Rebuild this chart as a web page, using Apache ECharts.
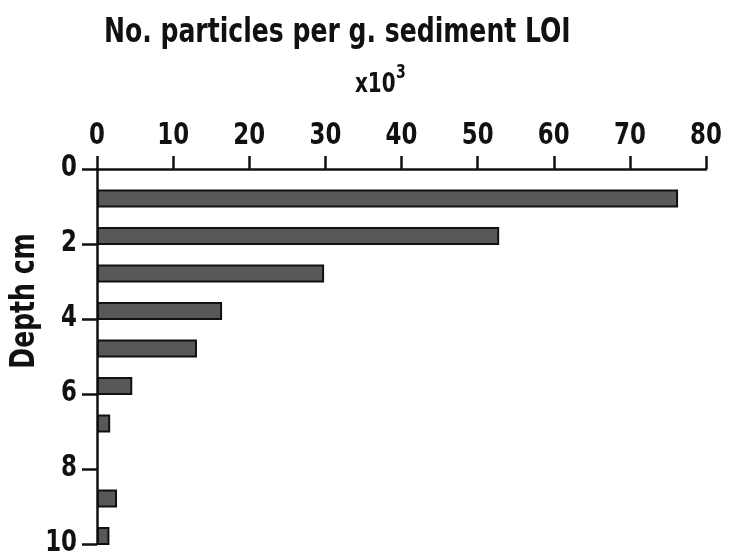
<!DOCTYPE html>
<html>
<head>
<meta charset="utf-8">
<script src="https://cdn.jsdelivr.net/npm/echarts@6/dist/echarts.min.js"></script>
<style>
  html, body { margin: 0; padding: 0; background: #fff; }
  #chart { width: 729px; height: 558px; }
</style>
</head>
<body>
<div id="chart"></div>
<script>
// Sample depth (cm, bottom of each slice) and particle counts (x10^3 per g sediment LOI)
const depths = [1, 2, 3, 4, 5, 6, 7, 8, 9, 10];
const counts = [76.2, 52.7, 29.7, 16.3, 13.0, 4.5, 1.6, 0, 2.5, 1.5];
const xTicks = [0, 10, 20, 30, 40, 50, 60, 70, 80];
const yTicks = [0, 2, 4, 6, 8, 10];
const titleText = 'No. particles per g. sediment LOI';
const unitText = 'x10';
const unitExp = '3';
const yName = 'Depth cm';

const FAMILY = '"DejaVu Sans Condensed", "DejaVu Sans", sans-serif';
const INK = '#111';
const NARROW = 0.82;   // horizontal squeeze for the condensed lettering
const SLICE = 0.43;    // drawn thickness of each bar, in cm of depth

const chart = echarts.init(document.getElementById('chart'));

chart.setOption({
  animation: false,
  backgroundColor: '#fff',
  grid: { left: 97, top: 169, right: 23, bottom: 14, containLabel: false },
  xAxis: {
    type: 'value',
    position: 'top',
    min: xTicks[0], max: xTicks[xTicks.length - 1], interval: 10,
    axisLine: { show: true, lineStyle: { color: INK, width: 2.5 } },
    axisTick: { show: true, inside: false, length: 13, lineStyle: { color: INK, width: 2.5 } },
    axisLabel: { show: false },
    splitLine: { show: false }
  },
  yAxis: {
    type: 'value',
    inverse: true,
    min: yTicks[0], max: yTicks[yTicks.length - 1], interval: 2,
    axisLine: { show: true, lineStyle: { color: INK, width: 2.5 } },
    axisTick: { show: true, inside: false, length: 15, lineStyle: { color: INK, width: 2.5 } },
    axisLabel: { show: false },
    splitLine: { show: false }
  },
  series: [{
    type: 'custom',
    data: depths.map((d, i) => [counts[i], d]),
    encode: { x: 0, y: 1 },
    renderItem: function (params, api) {
      const val = api.value(0);
      const d = api.value(1);
      if (!val) return null;
      const p0 = api.coord([0, d - SLICE]);
      const p1 = api.coord([val, d]);
      return {
        type: 'rect',
        shape: { x: p0[0] + 1, y: p0[1], width: p1[0] - p0[0] - 1, height: p1[1] - p0[1] },
        style: { fill: '#585858', stroke: INK, lineWidth: 2 }
      };
    }
  }]
});

// Condensed text helper: squeezed horizontally around its anchor point
function label(text, x, y, size, align) {
  return {
    type: 'text',
    x: x, y: y,
    scaleX: NARROW,
    silent: true,
    style: {
      text: text,
      fontFamily: FAMILY, fontWeight: 'bold', fontSize: size,
      fill: INK, align: align, verticalAlign: 'middle'
    }
  };
}

const graphics = [];
const axisY = chart.convertToPixel({ yAxisIndex: 0 }, 0);
const axisX = chart.convertToPixel({ xAxisIndex: 0 }, 0);

// Tick labels along the top axis
xTicks.forEach(v => {
  const px = chart.convertToPixel({ xAxisIndex: 0 }, v);
  graphics.push(label(String(v), px, axisY - 33, 31, 'center'));
});

// Depth labels to the left of the axis
yTicks.forEach(v => {
  const py = chart.convertToPixel({ yAxisIndex: 0 }, v);
  graphics.push(label(String(v), axisX - 20, py - 1.5, 31, 'right'));
});

// Titles
graphics.push(label(titleText, 104, 33, 34, 'left'));
graphics.push(label(unitText, 355, 85, 27, 'left'));
graphics.push(label(unitExp, 396, 73, 19, 'left'));

// Vertical axis name, reading bottom to top
graphics.push({
  type: 'text',
  x: 25, y: 301,
  rotation: Math.PI / 2,
  scaleX: NARROW,
  silent: true,
  style: {
    text: yName,
    fontFamily: FAMILY, fontWeight: 'bold', fontSize: 34,
    fill: INK, align: 'center', verticalAlign: 'middle'
  }
});

chart.setOption({ graphic: graphics });
</script>
</body>
</html>
